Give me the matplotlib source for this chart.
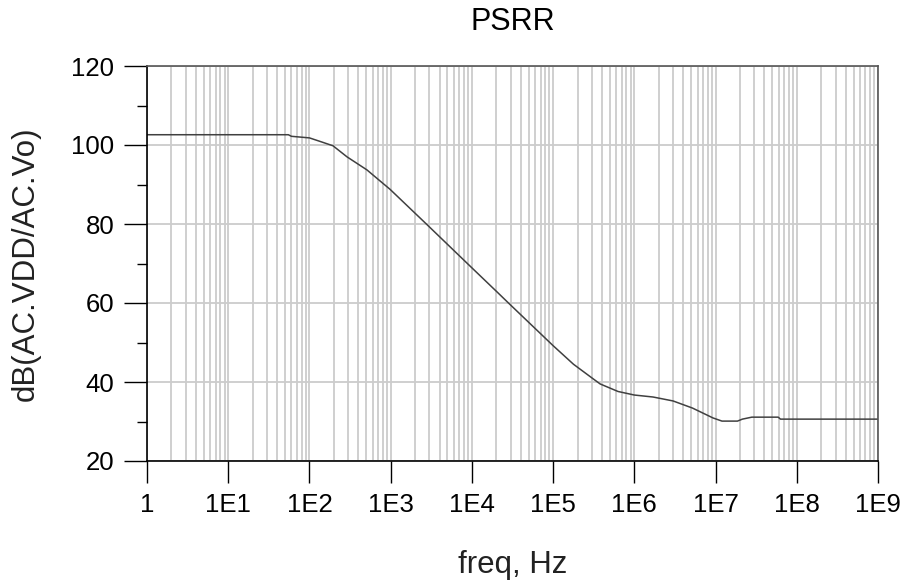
import numpy as np
import matplotlib
matplotlib.use("Agg")
import matplotlib.pyplot as plt
from matplotlib.ticker import LogLocator, FixedLocator, NullFormatter

plt.rcParams['font.family'] = ['Liberation Sans', 'DejaVu Sans']

# PSRR sweep (freq in Hz, dB)
freq = [1, 55, 60, 100, 140, 195, 290, 510, 760, 980, 2.75e3, 1e4, 2.04e4,
        2.82e4, 1e5, 1.78e5, 3.16e5, 3.8e5, 6.3e5, 1e6, 1.7e6, 3e6, 5.2e6,
        9.3e6, 1.2e7, 1.86e7, 2.14e7, 2.8e7, 5.9e7, 6.3e7, 1e9]
psrr_db = [102.6, 102.6, 102.2, 101.8, 100.8, 99.8, 97.0, 93.7, 90.7, 88.8,
           80.0, 68.9, 62.8, 60.0, 49.2, 44.5, 40.7, 39.5, 37.6, 36.7, 36.2,
           35.2, 33.4, 30.9, 30.1, 30.1, 30.6, 31.1, 31.1, 30.6, 30.6]

decades = [1, 1e1, 1e2, 1e3, 1e4, 1e5, 1e6, 1e7, 1e8, 1e9]
decade_labels = ['1', '1E1', '1E2', '1E3', '1E4', '1E5', '1E6', '1E7', '1E8', '1E9']
y_major = [20, 40, 60, 80, 100, 120]
y_minor = [30, 50, 70, 90, 110]

fig = plt.figure(figsize=(9.02, 5.83), dpi=100)
ax = fig.add_axes([147 / 902, 122 / 583, 731 / 902, 395 / 583])

ax.plot(freq, psrr_db, color='#404040', lw=1.1)

ax.set_xscale('log')
ax.set_xlim(1, 1e9)
ax.set_ylim(20, 120)

ax.xaxis.set_major_locator(FixedLocator(decades))
ax.set_xticklabels(decade_labels)
ax.xaxis.set_minor_locator(LogLocator(base=10, subs=np.arange(2, 10), numticks=100))
ax.xaxis.set_minor_formatter(NullFormatter())
ax.yaxis.set_major_locator(FixedLocator(y_major))
ax.yaxis.set_minor_locator(FixedLocator(y_minor))

ax.grid(True, which='both', axis='x', color='#cccccc', lw=1.3)
ax.grid(True, which='major', axis='y', color='#cccccc', lw=1.3)
ax.set_axisbelow(True)

ax.tick_params(axis='x', which='major', length=16, width=1, labelsize=18.5, pad=7)
ax.tick_params(axis='x', which='minor', length=0)
ax.tick_params(axis='y', which='major', length=16.5, width=1, labelsize=18.5, pad=7)
ax.tick_params(axis='y', which='minor', length=7, width=1)

for side in ['left', 'bottom']:
    ax.spines[side].set_color('black')
    ax.spines[side].set_linewidth(1.2)
for side in ['top', 'right']:
    ax.spines[side].set_color('#555555')
    ax.spines[side].set_linewidth(1.2)

ax.set_title('PSRR', fontsize=22, pad=26)
ax.set_xlabel('freq, Hz', fontsize=22.5, labelpad=24, color='#222222')
ax.set_ylabel('dB(AC.VDD/AC.Vo)', fontsize=22.5, labelpad=22, color='#222222')

fig.savefig('out.png', dpi=100)
